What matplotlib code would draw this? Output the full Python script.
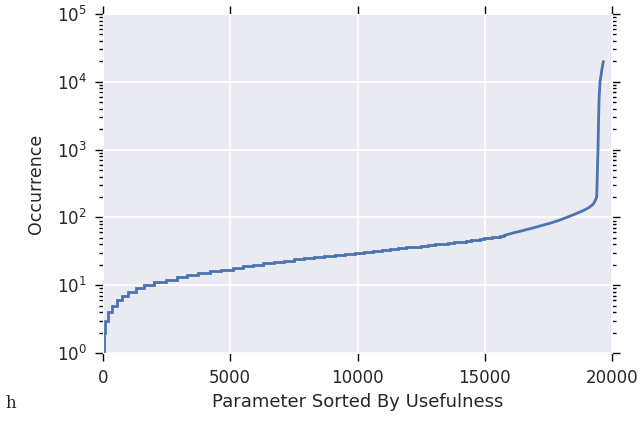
import matplotlib
matplotlib.use("Agg")
import matplotlib.pyplot as plt
import seaborn as sns
from matplotlib.ticker import LogLocator, NullFormatter

# Step start positions (parameter index) and occurrence values
step_x = [0, 40, 80, 210, 340, 535, 755, 990, 1280, 1610, 2000, 2460, 2890, 3320,
          3750, 4200, 4650, 5100, 5500, 5900, 6300, 6700, 7100, 7500, 7900, 8300,
          8700, 9100, 9500, 9900, 10250, 10600, 10950, 11280, 11600, 11900, 12200,
          12500, 12780, 13050, 13300, 13550, 13800, 14030, 14250, 14450, 14640,
          14820, 14990, 15150, 15300, 15450, 15600]
step_y = [1, 2, 3, 4, 5, 6, 7, 8, 9, 10, 11, 12, 13, 14,
          15, 16, 17, 18, 19, 20, 21, 22, 23, 24, 25, 26,
          27, 28, 29, 30, 31, 32, 33, 34, 35, 36, 37,
          38, 39, 40, 41, 42, 43, 44, 45, 46, 47,
          48, 49, 50, 51, 52, 53]
tail_x = [15750, 15900, 16200, 16500, 16900, 17300, 17560, 17900, 18220, 18550, 18870,
          19100, 19270, 19350, 19400, 19420, 19450, 19470, 19490, 19530, 19600, 19660]
tail_y = [54, 56, 60, 64, 70, 77, 82, 90, 100, 112, 126,
          140, 158, 180, 202, 400, 1000, 2500, 5400, 10000, 15000, 20000]

x_ticks = [0, 5000, 10000, 15000, 20000]
x_label = "Parameter Sorted By Usefulness"
y_label = "Occurrence"

sns.set_style("darkgrid")
plt.rcParams['font.family'] = ['DejaVu Sans']

fig = plt.figure(figsize=(6.4, 4.38), dpi=100)
ax = fig.add_axes([103/640, 1-353/438, (612-103)/640, (353-14)/438])

line_color = '#4C72B0'
ax.plot(step_x + [tail_x[0]], step_y + [tail_y[0]], drawstyle='steps-post',
        color=line_color, lw=2, solid_joinstyle='miter')
ax.plot(tail_x, tail_y, color=line_color, lw=2)

ax.set_yscale('log')
ax.set_xlim(0, 20000)
ax.set_ylim(1, 1e5)
ax.set_xticks(x_ticks)
ax.yaxis.set_major_locator(LogLocator(base=10, numticks=10))
ax.yaxis.set_minor_locator(LogLocator(base=10, subs=range(2, 10), numticks=20))
ax.yaxis.set_minor_formatter(NullFormatter())
ax.grid(True, which='major', color='white', lw=1.2)
ax.grid(False, which='minor')

ax.tick_params(axis='both', which='major', direction='out', length=5.5, width=1,
               color='black', labelsize=12, labelcolor='#262626',
               top=True, right=True, bottom=True, left=True)
ax.tick_params(axis='x', which='major', pad=6)
ax.tick_params(axis='y', which='major', pad=6)
ax.tick_params(axis='y', which='minor', direction='out', length=3, width=1,
               color='black', left=True, right=True)
ax.tick_params(axis='x', which='minor', bottom=False, top=False)

ax.set_xlabel(x_label, fontsize=13, color='#262626', labelpad=4)
ax.set_ylabel(y_label, fontsize=12.5, color='#262626', labelpad=9)

fig.text(5/640, 1-404/438, "h", family='DejaVu Serif', fontsize=12,
         va='center', ha='left', color='#222222')

fig.savefig("out.png", dpi=100)
